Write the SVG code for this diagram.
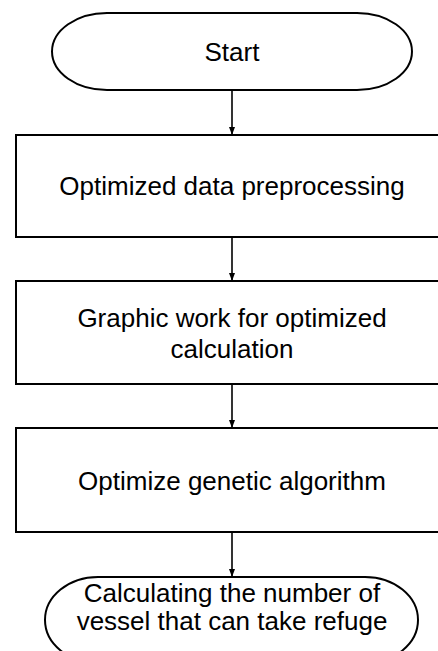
<svg xmlns="http://www.w3.org/2000/svg" width="438" height="651" viewBox="0 0 438 651">
  <style>
    .shape { fill: #ffffff; stroke: #000000; stroke-width: 2; }
    .label { font-family: "Liberation Sans", Arial, sans-serif; font-size: 26px; fill: #000000; text-anchor: middle; }
    .edge { stroke: #000000; stroke-width: 1.6; fill: none; marker-end: url(#arrow); }
  </style>
  <defs>
    <marker id="arrow" viewBox="0 0 8 8" refX="8" refY="4" markerWidth="8" markerHeight="8" markerUnits="userSpaceOnUse" orient="auto">
      <path d="M0,1 L8,4 L0,7 Z" fill="#000000"/>
    </marker>
  </defs>
  <rect width="438" height="651" fill="#ffffff"/>

  <g id="connectors">
    <line class="edge" x1="232" y1="90" x2="232" y2="135"/>
    <line class="edge" x1="232" y1="237" x2="232" y2="281"/>
    <line class="edge" x1="232" y1="384" x2="232" y2="428"/>
    <line class="edge" x1="232" y1="532" x2="232" y2="577"/>
  </g>

  <g id="start">
    <path class="shape" d="M107,13 H357 A55,38.5 0 0 1 357,90 H107 A55,38.5 0 0 1 107,13 Z"/>
    <text class="label" x="232" y="61">Start</text>
  </g>

  <g id="preprocess">
    <rect class="shape" x="16" y="135" width="432" height="102"/>
    <text class="label" x="232" y="195">Optimized data preprocessing</text>
  </g>

  <g id="graphic-work">
    <rect class="shape" x="16" y="281" width="432" height="103"/>
    <text class="label" x="232" y="327">Graphic work for optimized</text>
    <text class="label" x="232" y="358">calculation</text>
  </g>

  <g id="genetic">
    <rect class="shape" x="16" y="428" width="432" height="104"/>
    <text class="label" x="232" y="490">Optimize genetic algorithm</text>
  </g>

  <g id="end">
    <path class="shape" d="M98,577 H365 A53,43 0 0 1 365,663 H98 A53,43 0 0 1 98,577 Z"/>
    <text class="label" x="232" y="602">Calculating the number of</text>
    <text class="label" x="232" y="630">vessel that can take refuge</text>
  </g>
</svg>
